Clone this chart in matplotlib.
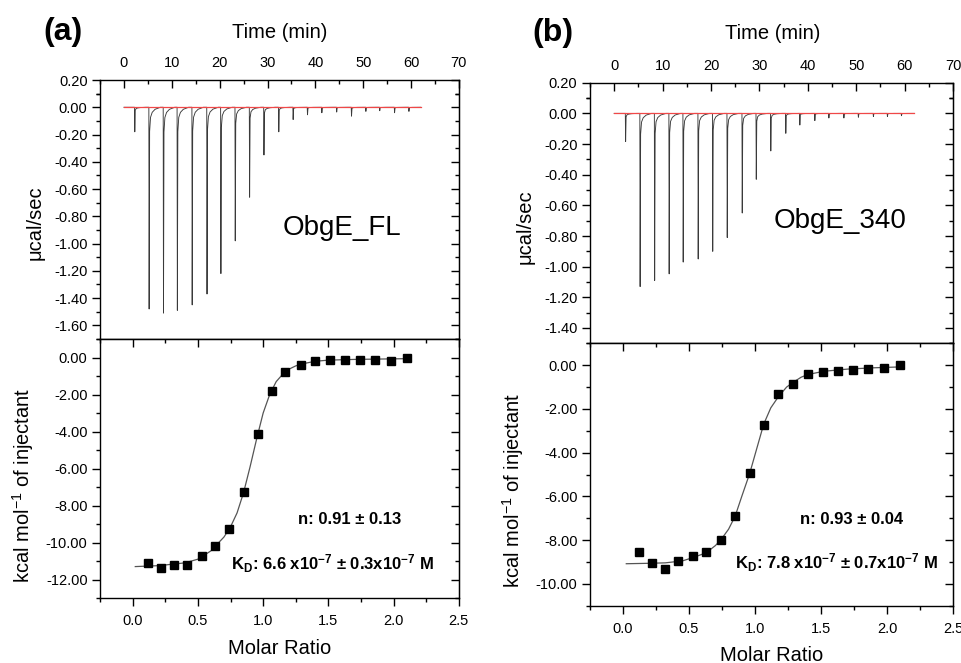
import matplotlib
matplotlib.use('Agg')
import matplotlib.pyplot as plt
from matplotlib.ticker import FormatStrFormatter

plt.rcParams['font.family'] = ['Liberation Sans', 'DejaVu Sans']
plt.rcParams['axes.unicode_minus'] = False
plt.rcParams['mathtext.fontset'] = 'custom'
plt.rcParams['mathtext.rm'] = 'Liberation Sans'
plt.rcParams['mathtext.it'] = 'Liberation Sans:italic'
plt.rcParams['mathtext.bf'] = 'Liberation Sans:bold'

# raw thermograms: injection times (min) and peak minima (ucal/sec)
inj_time_a = [2.2, 5.2, 8.2, 11.1, 14.2, 17.3, 20.2, 23.2, 26.2, 29.2,
              32.3, 35.3, 38.3, 41.3, 44.4, 47.5, 50.5, 53.4, 56.5, 59.5]
peak_a = [-0.18, -1.48, -1.51, -1.49, -1.45, -1.37, -1.22, -0.98, -0.66, -0.35,
          -0.18, -0.09, -0.055, -0.04, -0.035, -0.065, -0.03, -0.025, -0.04, -0.03]
inj_time_b = [2.3, 5.3, 8.3, 11.3, 14.2, 17.3, 20.3, 23.3, 26.4, 29.3,
              32.3, 35.4, 38.3, 41.4, 44.3, 47.4, 50.4, 53.5, 56.4, 59.3]
peak_b = [-0.184, -1.13, -1.09, -1.047, -0.97, -0.95, -0.90, -0.81, -0.65, -0.43,
          -0.245, -0.13, -0.076, -0.047, -0.03, -0.03, -0.025, -0.02, -0.02, -0.015]
trace_end = 62.0
baseline_t = [0.0, 62.0]
baseline_y = [0.0, 0.0]

# integrated heats
ratio_a = [0.12, 0.22, 0.32, 0.42, 0.53, 0.63, 0.74, 0.85, 0.957, 1.064,
           1.17, 1.29, 1.40, 1.51, 1.63, 1.74, 1.86, 1.98, 2.10]
heat_a = [-11.08, -11.40, -11.24, -11.22, -10.75, -10.21, -9.29, -7.29, -4.15, -1.82,
          -0.78, -0.415, -0.20, -0.126, -0.11, -0.11, -0.14, -0.16, -0.02]
ratio_b = [0.12, 0.22, 0.32, 0.42, 0.53, 0.63, 0.74, 0.85, 0.96, 1.066,
           1.177, 1.29, 1.40, 1.515, 1.63, 1.74, 1.86, 1.98, 2.10]
heat_b = [-8.54, -9.04, -9.31, -8.97, -8.73, -8.54, -7.99, -6.89, -4.95, -2.73,
          -1.33, -0.84, -0.40, -0.32, -0.28, -0.21, -0.17, -0.14, 0.0]

# fitted curves
fit_x_a = [0.02, 0.2, 0.4, 0.5, 0.6, 0.7, 0.75, 0.8, 0.85, 0.9, 0.95, 1.0,
           1.05, 1.1, 1.15, 1.2, 1.25, 1.3, 1.4, 1.5, 1.7, 1.9, 2.1]
fit_y_a = [-11.3, -11.25, -11.1, -10.9, -10.45, -9.7, -9.15, -8.4, -7.3, -5.9, -4.4, -3.0,
           -2.0, -1.3, -0.9, -0.62, -0.45, -0.34, -0.2, -0.14, -0.1, -0.08, -0.06]
fit_x_b = [0.025, 0.2, 0.32, 0.45, 0.53, 0.63, 0.7, 0.74, 0.8, 0.85, 0.9, 0.96,
           1.0, 1.066, 1.12, 1.18, 1.24, 1.29, 1.35, 1.40, 1.52, 1.7, 1.9, 2.1]
fit_y_b = [-9.08, -9.06, -9.04, -8.95, -8.8, -8.58, -8.25, -8.0, -7.5, -6.9, -6.0, -4.95,
           -4.1, -2.7, -1.95, -1.42, -1.0, -0.78, -0.55, -0.43, -0.28, -0.18, -0.12, -0.08]

# peak shape used to draw each injection spike (offset in min, fraction of depth)
SPIKE_DT = [0.0, 0.06, 0.16, 0.35, 0.7, 1.3, 2.4]
SPIKE_FRAC = [0.0, 1.0, 0.12, 0.05, 0.025, 0.01, 0.0]

MAJ = 5.5
MIN = 3.0


def build_trace(times, depths, t_end):
    t = [0.0]
    y = [0.0]
    for ti, d in zip(times, depths):
        for dt, f in zip(SPIKE_DT, SPIKE_FRAC):
            t.append(ti + dt)
            y.append(d * f)
    t.append(t_end)
    y.append(0.0)
    return t, y


def tick_len(axobj, axis):
    axobj.tick_params(axis=axis, which='major', length=MAJ, width=1)
    axobj.tick_params(axis=axis, which='minor', length=MIN, width=1)


def style_top(ax, ymin, ymax, yticks, yminor):
    ax.set_xlim(-5, 70)
    ax.set_ylim(ymin, ymax)
    ax.xaxis.tick_top()
    ax.xaxis.set_label_position('top')
    ax.set_xticks(range(0, 71, 10))
    ax.set_xticks(range(-5, 71, 10), minor=True)
    ax.tick_params(axis='x', which='both', direction='in', top=True, bottom=False,
                   labeltop=True, labelbottom=False, labelsize=10.5, pad=7)
    tick_len(ax, 'x')
    ax.set_yticks(yticks)
    ax.set_yticks(yminor, minor=True)
    ax.yaxis.set_major_formatter(FormatStrFormatter('%.2f'))
    ax.tick_params(axis='y', which='both', direction='out', left=True, right=False,
                   labelsize=10.5)
    tick_len(ax, 'y')
    sec = ax.secondary_yaxis('right')
    sec.set_yticks(yticks)
    sec.set_yticks(yminor, minor=True)
    sec.tick_params(axis='y', which='both', direction='in', labelright=False)
    tick_len(sec, 'y')


def style_bottom(ax, ymin, ymax, yticks, yminor):
    ax.set_xlim(-0.25, 2.5)
    ax.set_ylim(ymin, ymax)
    xt = [0.0, 0.5, 1.0, 1.5, 2.0, 2.5]
    xm = [-0.25, 0.25, 0.75, 1.25, 1.75, 2.25]
    ax.set_xticks(xt)
    ax.set_xticks(xm, minor=True)
    ax.xaxis.set_major_formatter(FormatStrFormatter('%.1f'))
    ax.tick_params(axis='x', which='both', direction='out', labelsize=10.5, pad=6)
    tick_len(ax, 'x')
    ax.set_yticks(yticks)
    ax.set_yticks(yminor, minor=True)
    ax.yaxis.set_major_formatter(FormatStrFormatter('%.2f'))
    ax.tick_params(axis='y', which='both', direction='out', labelsize=10.5)
    tick_len(ax, 'y')
    sx = ax.secondary_xaxis('top')
    sx.set_xticks(xt)
    sx.set_xticks(xm, minor=True)
    sx.tick_params(axis='x', which='both', direction='in', labeltop=False)
    tick_len(sx, 'x')
    sy = ax.secondary_yaxis('right')
    sy.set_yticks(yticks)
    sy.set_yticks(yminor, minor=True)
    sy.tick_params(axis='y', which='both', direction='in', labelright=False)
    tick_len(sy, 'y')


fig = plt.figure(figsize=(9.62, 6.63), dpi=100)

panels = [
    dict(top=[0.104, 0.4887, 0.373, 0.3906], bot=[0.104, 0.098, 0.373, 0.3906],
         times=inj_time_a, peaks=peak_a, ratio=ratio_a, heat=heat_a,
         fx=fit_x_a, fy=fit_y_a, name='ObgE_FL', name_xy=(45.5, -0.888),
         top_ylim=(-1.70, 0.20), top_yt=[0.2 - 0.2 * i for i in range(10)],
         bot_ylim=(-13, 1), bot_yt=list(range(0, -13, -2)), bot_ym=list(range(1, -14, -1)),
         n_text='n: 0.91 ± 0.13', n_xy=(1.66, -8.73),
         kd_text=r'K$_\mathbf{D}$: 6.6 x10$^{\mathbf{-7}}$ ± 0.3x10$^{\mathbf{-7}}$ M',
         kd_xy=(1.535, -11.13), letter='(a)', letter_xy=(63, 32),
         tlab=(0.501, 1.185), ylab_top=(-0.181, 0.45), ylab_bot=(-0.214, 0.436),
         xlab=(0.5, -0.193)),
    dict(top=[0.6133, 0.4822, 0.3773, 0.393], bot=[0.6133, 0.0864, 0.3773, 0.3958],
         times=inj_time_b, peaks=peak_b, ratio=ratio_b, heat=heat_b,
         fx=fit_x_b, fy=fit_y_b, name='ObgE_340', name_xy=(46.6, -0.704),
         top_ylim=(-1.40, 0.20), top_yt=[0.2 - 0.2 * i for i in range(9)],
         bot_ylim=(-11, 1), bot_yt=list(range(0, -11, -2)), bot_ym=list(range(1, -12, -1)),
         n_text='n: 0.93 ± 0.04', n_xy=(1.73, -7.06),
         kd_text=r'K$_\mathbf{D}$: 7.8 x10$^{\mathbf{-7}}$ ± 0.7x10$^{\mathbf{-7}}$ M',
         kd_xy=(1.62, -9.04), letter='(b)', letter_xy=(553, 33),
         tlab=(0.503, 1.19), ylab_top=(-0.179, 0.447), ylab_bot=(-0.211, 0.441),
         xlab=(0.5, -0.188)),
]

for p in panels:
    ax1 = fig.add_axes(p['top'])
    t, y = build_trace(p['times'], p['peaks'], trace_end)
    ax1.plot(t, y, color='#3a3a3a', lw=0.65)
    ax1.plot(baseline_t, baseline_y, color='#f04848', lw=0.9)
    yt = p['top_yt']
    ym = [v - 0.1 for v in yt] + [0.1]
    style_top(ax1, p['top_ylim'][0], p['top_ylim'][1], yt, ym)
    ax1.set_xlabel('Time (min)', fontsize=14.5, va='center')
    ax1.xaxis.set_label_coords(*p['tlab'])
    ax1.set_ylabel('μcal/sec', fontsize=14.5, va='center')
    ax1.yaxis.set_label_coords(*p['ylab_top'])
    ax1.text(p['name_xy'][0], p['name_xy'][1], p['name'], fontsize=20,
             ha='center', va='center')
    for s in ax1.spines.values():
        s.set_linewidth(1)

    ax2 = fig.add_axes(p['bot'])
    ax2.plot(p['fx'], p['fy'], color='#555555', lw=0.9)
    ax2.plot(p['ratio'], p['heat'], ls='none', marker='s', ms=6, color='black')
    style_bottom(ax2, p['bot_ylim'][0], p['bot_ylim'][1], p['bot_yt'], p['bot_ym'])
    ax2.set_xlabel('Molar Ratio', fontsize=14.5, va='center')
    ax2.xaxis.set_label_coords(*p['xlab'])
    ax2.set_ylabel(r'kcal mol$^{-1}$ of injectant', fontsize=14.5, va='center')
    ax2.yaxis.set_label_coords(*p['ylab_bot'])
    ax2.text(p['n_xy'][0], p['n_xy'][1], p['n_text'], fontsize=12,
             fontweight='bold', ha='center', va='center')
    ax2.text(p['kd_xy'][0], p['kd_xy'][1], p['kd_text'], fontsize=12,
             fontweight='bold', ha='center', va='center')
    for s in ax2.spines.values():
        s.set_linewidth(1)

    fig.text(p['letter_xy'][0] / 962, 1 - p['letter_xy'][1] / 663, p['letter'],
             fontsize=23, fontweight='bold', ha='center', va='center')

fig.savefig('out.png', dpi=100)
